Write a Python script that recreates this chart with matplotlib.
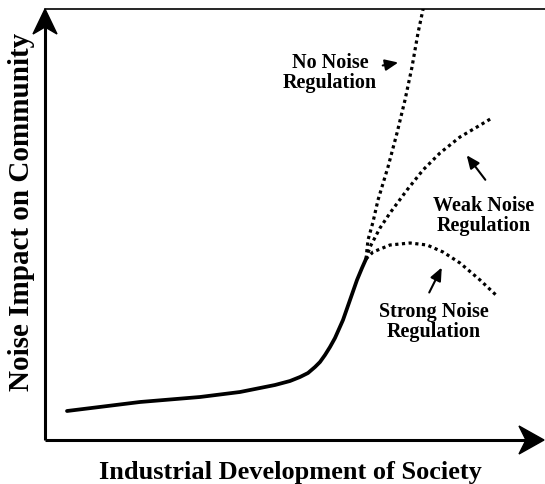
import matplotlib.pyplot as plt
from matplotlib.patches import Polygon

plt.rcParams['font.family'] = ['Liberation Serif', 'DejaVu Serif']
plt.rcParams['font.weight'] = 'bold'

# conceptual curves (x = development, y = noise impact), 1 unit ~ 1 px
base_x = [22, 95, 155, 195, 230, 245, 255, 263, 270, 275, 280, 285, 290, 298, 305, 312, 317, 321]
base_y = [29, 38, 43, 48, 55, 59, 63, 67, 73, 78, 85, 93, 102, 120, 140, 160, 172, 181]

none_x = [321, 323, 328, 333, 343, 352, 360, 367, 373, 380]
none_y = [181, 200, 218, 240, 273, 307, 340, 373, 407, 440]

weak_x = [321, 325, 335, 345, 362, 378, 395, 415, 432, 447]
weak_y = [181, 193, 212, 227, 250, 270, 287, 303, 313, 322]

strong_x = [321, 328, 345, 365, 382, 398, 415, 435, 452]
strong_y = [181, 188, 195, 197, 195, 188, 177, 160, 144]

W, H = 545, 484
fig = plt.figure(figsize=(W / 100, H / 100), dpi=100)
ax = fig.add_axes([45 / W, 44 / H, 500 / W, 431 / H])
ax.set_xlim(0, 500)
ax.set_ylim(0, 431)
ax.set_xticks([])
ax.set_yticks([])
for s in ['left', 'right', 'bottom']:
    ax.spines[s].set_visible(False)
ax.spines['top'].set_linewidth(1.2)

# axis arrows
ax.plot([0, 0], [0, 415], color='black', lw=2.2, solid_capstyle='butt', clip_on=False)
ax.plot([0, 482], [0, 0], color='black', lw=2.2, solid_capstyle='butt', clip_on=False)
ax.add_patch(Polygon([[0, 431], [-12, 406], [0, 413], [12, 406]], closed=True,
                     color='black', clip_on=False))
ax.add_patch(Polygon([[499, 0], [474, 14], [481, 0], [474, -14]], closed=True,
                     color='black', clip_on=False))

dots = dict(color='black', lw=2.3, linestyle=(0, (1, 1.1)), dash_capstyle='butt')
ax.plot(base_x, base_y, color='black', lw=2.7, solid_capstyle='round')
ax.plot(none_x, none_y, **dots)
ax.plot(weak_x, weak_y, **dots)
ax.plot(strong_x, strong_y, **dots)

lab = dict(fontsize=14.5, fontweight='bold', ha='center', va='center', linespacing=1.05)
ax.text(285, 367, 'No Noise\nRegulation', **lab)
ax.text(439, 224, 'Weak Noise\nRegulation', **lab)
ax.text(389, 118, 'Strong Noise\nRegulation', **lab)

arr = dict(arrowstyle='-|>,head_length=0.65,head_width=0.28', color='black', lw=1.5,
           mutation_scale=12)
ax.annotate('', xy=(356, 378), xytext=(335, 374), arrowprops=arr)
ax.annotate('', xy=(420, 287), xytext=(442, 258), arrowprops=arr)
ax.annotate('', xy=(398, 175), xytext=(383, 145), arrowprops=arr)

fig.text(290 / W, 1 - 479 / H, 'Industrial Development of Society', fontsize=19,
         fontweight='bold', ha='center', va='baseline')
fig.text(22 / W, 1 - 212 / H, 'Noise Impact on Community', fontsize=21,
         fontweight='bold', ha='center', va='center', rotation=90)

fig.savefig('out.png', dpi=100)
